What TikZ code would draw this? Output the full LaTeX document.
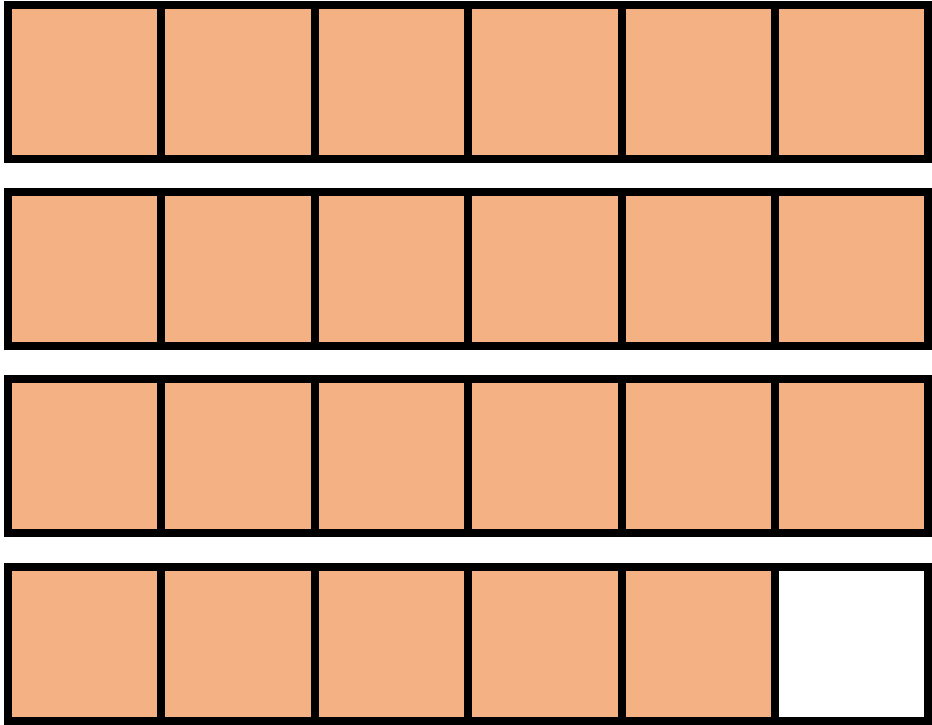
\documentclass[tikz,border=0pt]{standalone}
\usepackage{tikz}
\definecolor{cellfill}{RGB}{244,177,131}
\tikzset{
cellbox/.style={draw=black, line width=0.16cm, fill=cellfill, minimum width=3.068cm, minimum height=3.08cm, inner sep=0pt, outer sep=0pt},
emptybox/.style={cellbox, fill=white}
}
\begin{document}
\begin{tikzpicture}[x=0.02cm,y=-0.02cm]
\useasboundingbox (0,0) rectangle (932,724);
\foreach \r in {1,...,4}
  \foreach \c in {1,...,6}
  {
    \pgfmathtruncatemacro{\last}{\r*10+\c}
    \ifnum\last=46
      \node[emptybox] (cell-\r-\c) at ({8+153.4*(\c-0.5)},{82+187.2*(\r-1)}) {};
    \else
      \node[cellbox] (cell-\r-\c) at ({8+153.4*(\c-0.5)},{82+187.2*(\r-1)}) {};
    \fi
  }
\end{tikzpicture}
\end{document}
